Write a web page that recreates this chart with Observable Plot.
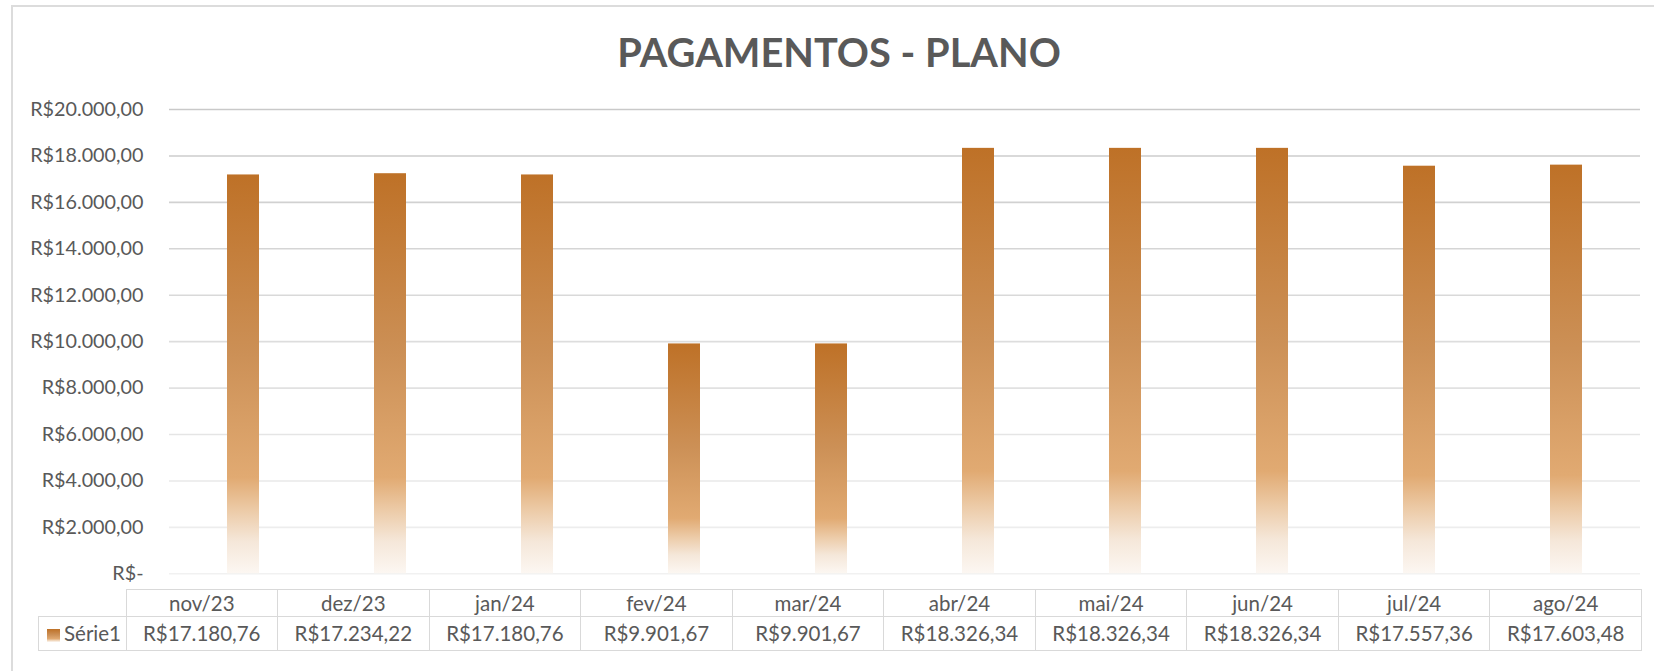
<!DOCTYPE html>
<html><head><meta charset="utf-8">
<script src="https://cdn.jsdelivr.net/npm/d3@7"></script>
<script src="https://cdn.jsdelivr.net/npm/@observablehq/plot@0.6"></script>
<style>
html,body{margin:0;padding:0;background:#fff;}
#wrap{position:relative;width:1654px;height:671px;overflow:hidden;font-family:Lato,"Open Sans",sans-serif;color:#595959;}
#frame{position:absolute;left:11px;top:5px;width:1700px;height:700px;border:2px solid #dcdcdc;box-sizing:border-box;}
#chart{position:absolute;left:0;top:0;}
#title{position:absolute;left:0;width:1678px;top:32px;text-align:center;font-weight:bold;font-size:39.8px;line-height:40px;white-space:nowrap;}
#tbl{position:absolute;left:38px;top:589px;border-collapse:collapse;table-layout:fixed;font-size:20.5px;}
#tbl td{border:1.5px solid #d9d9d9;text-align:center;padding:0;white-space:nowrap;vertical-align:middle;}
#tbl td.empty{border:none;}
#tbl td.leg{text-align:left;padding-left:8px;}
.sw{display:inline-block;width:13px;height:13px;margin-right:4px;vertical-align:-1px;background:linear-gradient(#be7127 0%,#cc9056 45%,#e1aa72 76%,#eccaa6 84%,#fcf7f2 100%);}
</style></head><body>
<div id="wrap"><div id="frame"></div><div id="chart"></div><div id="title"></div><table id="tbl"></table></div>
<script>
const months = ["nov/23","dez/23","jan/24","fev/24","mar/24","abr/24","mai/24","jun/24","jul/24","ago/24"];
const values = [17180.76, 17234.22, 17180.76, 9901.67, 9901.67, 18326.34, 18326.34, 18326.34, 17557.36, 17603.48];
const yTicks = [0, 2000, 4000, 6000, 8000, 10000, 12000, 14000, 16000, 18000, 20000];
const chartTitle = "PAGAMENTOS - PLANO";
const seriesName = "Série1";

const locale = d3.formatLocale({decimal: ",", thousands: ".", grouping: [3], currency: ["R$", ""]});
const money = locale.format("$,.2f");
const tickFmt = v => v === 0 ? "R$-" : money(v);

const data = months.map((m, i) => ({month: m, value: values[i]}));
const gridColor = d3.interpolateRgb("#f1f1f1", "#c9c9c9");

const plot = Plot.plot({
  width: 1654, height: 671,
  marginLeft: 169, marginRight: 14, marginTop: 109, marginBottom: 97.7,
  x: {domain: months, paddingInner: 0.78, paddingOuter: 0.39, axis: null},
  y: {domain: [0, 20000], ticks: yTicks, tickFormat: tickFmt, label: null, tickSize: 0, tickPadding: 26},
  color: {type: "identity"},
  style: {fontFamily: "Lato, 'Open Sans', sans-serif", fontSize: "19.8px", color: "#595959", background: "transparent", overflow: "visible"},
  marks: [
    Plot.ruleY(yTicks, {stroke: d => gridColor(d / 20000), strokeWidth: 1.6}),
    Plot.barY(data, {x: "month", y: "value", fill: "url(#barGrad)"})
  ]
});

const defs = d3.select(plot).insert("defs", ":first-child");
const g = defs.append("linearGradient").attr("id", "barGrad").attr("x1", 0).attr("y1", 0).attr("x2", 0).attr("y2", 1);
[[0, "#be7127"], [0.45, "#cc9056"], [0.76, "#e1aa72"], [0.84, "#eccaa6"], [0.92, "#f5e7d9"], [1, "#fcf7f2"]]
  .forEach(([o, c]) => g.append("stop").attr("offset", o).attr("stop-color", c));

document.getElementById("chart").appendChild(plot);
document.getElementById("title").textContent = chartTitle;

// data table
const tbl = d3.select("#tbl");
const cg = tbl.append("colgroup");
cg.append("col").style("width", "87.5px");
months.forEach(() => cg.append("col").style("width", "151.55px"));
const r1 = tbl.append("tr").style("height", "26.7px");
r1.append("td").attr("class", "empty");
months.forEach(m => r1.append("td").text(m));
const r2 = tbl.append("tr").style("height", "34.3px");
const lc = r2.append("td").attr("class", "leg");
lc.append("span").attr("class", "sw");
lc.append("span").text(seriesName);
values.forEach(v => r2.append("td").text(money(v)));
</script>
</body></html>
